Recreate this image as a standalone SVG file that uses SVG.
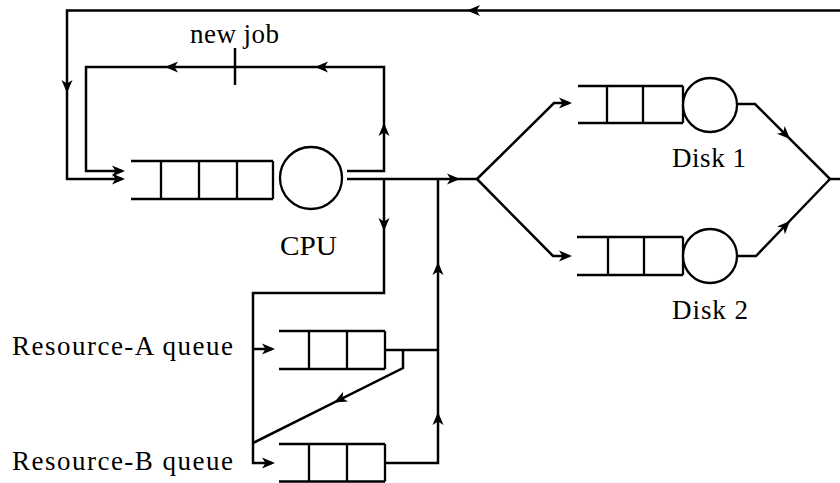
<svg xmlns="http://www.w3.org/2000/svg" xmlns:xlink="http://www.w3.org/1999/xlink" width="840" height="483" viewBox="0 0 840 483">
<style>
.ln{fill:none;stroke:#000;stroke-width:2.5;stroke-linejoin:miter;stroke-linecap:butt}
.q{fill:none;stroke:#000;stroke-width:2.3}
.srv{fill:#fff;stroke:#000;stroke-width:2.3}
.t{font-family:"Liberation Serif","Times New Roman",serif;font-size:27px;fill:#000}
</style>
<defs>
<path id="ah" d="M0,0 L-13,-5.5 L-9.5,0 L-13,5.5 Z" fill="#000"/>
</defs>
<rect width="840" height="483" fill="#fff"/>
<g id="connectors">
<path class="ln" d="M840,10.5 L67,10.5 L67,179 L122,179"/>
<use xlink:href="#ah" transform="translate(467,10.5) rotate(180)"/>
<use xlink:href="#ah" transform="translate(67,93) rotate(90)"/>
<use xlink:href="#ah" transform="translate(125,179)"/>
<path class="ln" d="M347,171 L384,171 L384,67 L86,67 L86,171 L122,171"/>
<use xlink:href="#ah" transform="translate(125,171)"/>
<use xlink:href="#ah" transform="translate(384,123) rotate(-90)"/>
<use xlink:href="#ah" transform="translate(315,67) rotate(180)"/>
<use xlink:href="#ah" transform="translate(165,67) rotate(180)"/>
<path class="ln" d="M235,48 L235,85"/>
<path class="ln" d="M347,179 L477,179"/>
<use xlink:href="#ah" transform="translate(460,179)"/>
<path class="ln" d="M384,179 L384,293 L253,293 L253,463 L272,463"/>
<use xlink:href="#ah" transform="translate(384,231) rotate(90)"/>
<use xlink:href="#ah" transform="translate(275,463)"/>
<path class="ln" d="M253,349 L272,349"/>
<use xlink:href="#ah" transform="translate(275,349)"/>
<path class="ln" d="M385,350 L438,350"/>
<path class="ln" d="M403,350 L403,368 L253,443"/>
<use xlink:href="#ah" transform="translate(334,402.5) rotate(153.4)"/>
<path class="ln" d="M385,463 L438,463 L438,179"/>
<use xlink:href="#ah" transform="translate(438,262) rotate(-90)"/>
<use xlink:href="#ah" transform="translate(438,412) rotate(-90)"/>
<path class="ln" d="M477,179 L554,103 L569,103"/>
<use xlink:href="#ah" transform="translate(572,103)"/>
<path class="ln" d="M477,179 L553,256 L569,256"/>
<use xlink:href="#ah" transform="translate(572,256)"/>
<path class="ln" d="M737,104 L755,104 L830,179 L840,179"/>
<use xlink:href="#ah" transform="translate(790,139) rotate(45)"/>
<path class="ln" d="M737,256 L756,256 L830,179"/>
<use xlink:href="#ah" transform="translate(790,221) rotate(-46)"/>
</g>
<g id="cpu">
<path class="q" d="M131,161 L273,161 M131,199 L273,199 M161,161 L161,199 M199,161 L199,199 M237,161 L237,199 M273,161 L273,199"/>
<circle class="srv" cx="311" cy="178" r="31"/>
<text class="t" x="280" y="255" textLength="57" lengthAdjust="spacingAndGlyphs">CPU</text>
</g>
<g id="disk1">
<path class="q" d="M578,86 L683,86 M578,123 L683,123 M607,86 L607,123 M643,86 L643,123 M683,86 L683,123"/>
<circle class="srv" cx="710" cy="105" r="27"/>
<text class="t" x="672" y="167" textLength="74" lengthAdjust="spacing">Disk 1</text>
</g>
<g id="disk2">
<path class="q" d="M577,237 L683,237 M577,275 L683,275 M608,237 L608,275 M644,237 L644,275 M683,237 L683,275"/>
<circle class="srv" cx="710" cy="256" r="27"/>
<text class="t" x="672" y="319" textLength="76" lengthAdjust="spacing">Disk 2</text>
</g>
<g id="resA">
<path class="q" d="M279,331 L385,331 M279,369 L385,369 M309,331 L309,369 M347,331 L347,369 M385,331 L385,369"/>
<text class="t" x="12" y="355" textLength="221" lengthAdjust="spacing">Resource-A queue</text>
</g>
<g id="resB">
<path class="q" d="M279,444 L385,444 M279,481.5 L385,481.5 M309,444 L309,481.5 M347,444 L347,481.5 M385,444 L385,481.5"/>
<text class="t" x="12" y="470" textLength="221" lengthAdjust="spacing">Resource-B queue</text>
</g>
<g id="newjob">
<text class="t" x="190" y="43" font-size="24" textLength="89" lengthAdjust="spacing">new job</text>
</g>
</svg>
